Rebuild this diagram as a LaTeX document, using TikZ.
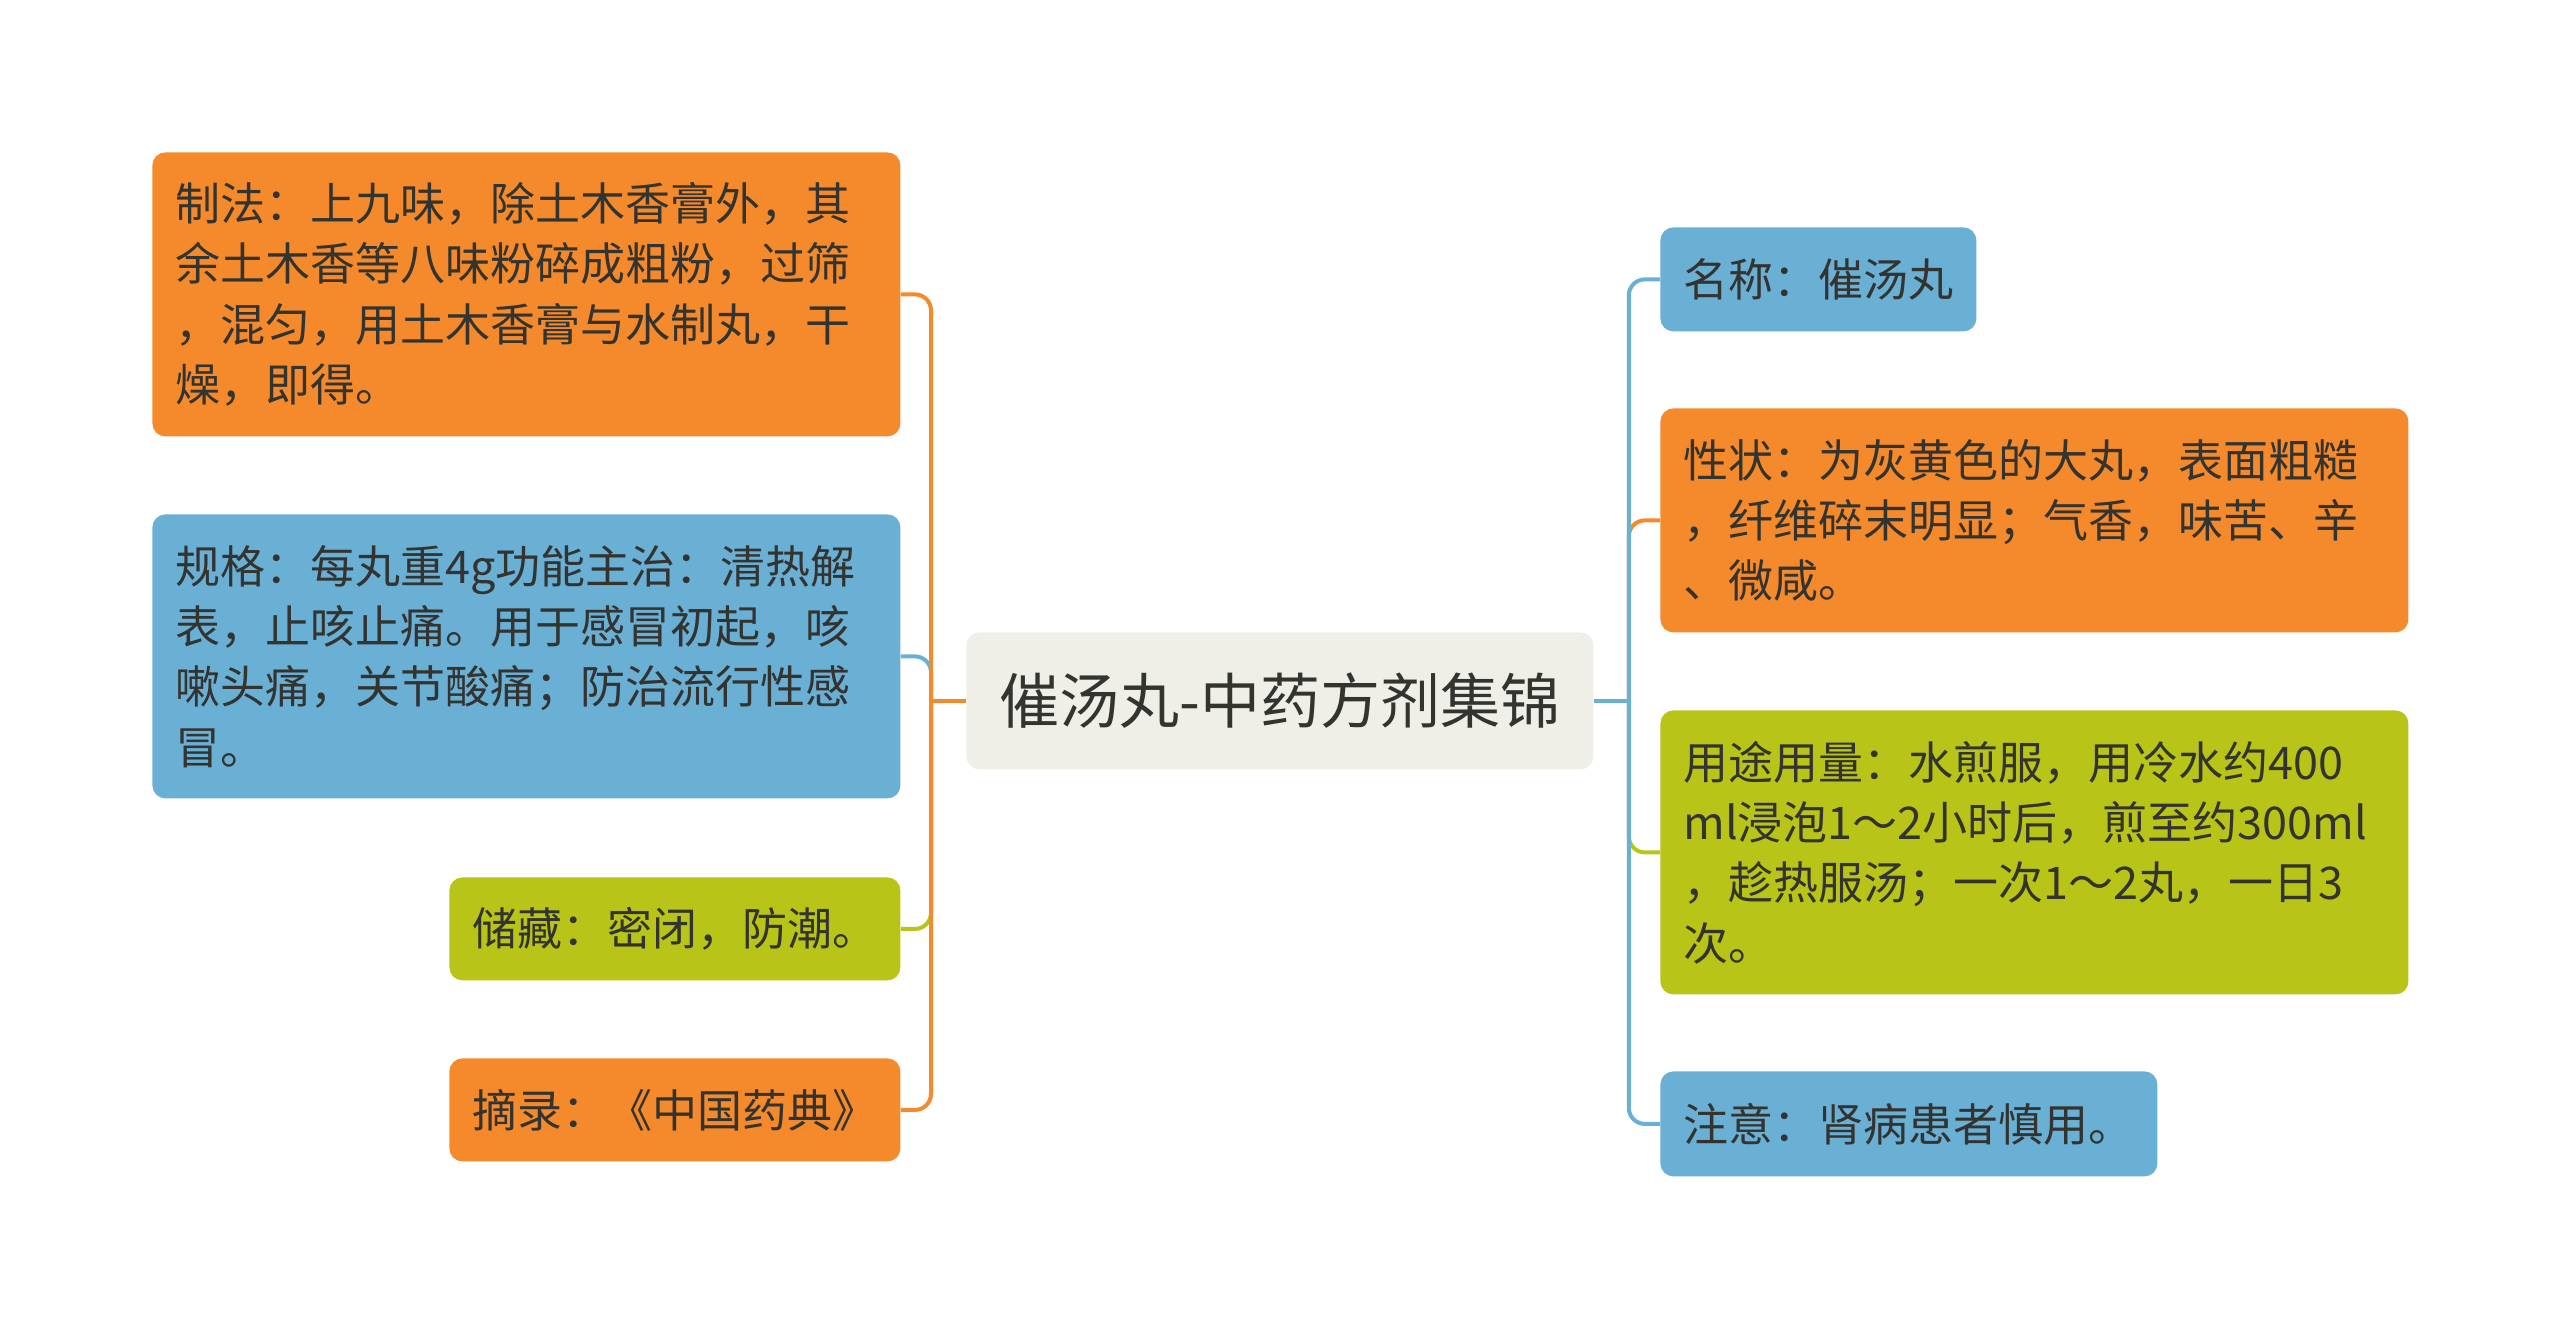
\documentclass[tikz,border=0pt]{standalone}
\usepackage{fontspec}
\newfontfamily\cjk{Noto Sans CJK SC}
\definecolor{orangec}{HTML}{F58A2C}
\definecolor{bluec}{HTML}{6AAFD4}
\definecolor{greenc}{HTML}{B9C419}
\definecolor{centerc}{HTML}{EFEFE8}
\definecolor{textc}{HTML}{333330}
\tikzset{
  leaf/.style={rounded corners=6.5pt, inner xsep=11.5pt, inner ysep=0pt, align=left,
    font=\cjk\fontsize{22.5}{30.2}\selectfont, text=textc, anchor=north west},
  hub/.style={rounded corners=6.5pt, fill=centerc, font=\cjk\fontsize{30}{36}\selectfont,
    text=textc, anchor=north west, minimum width=313.5pt, minimum height=68.5pt, inner sep=0pt},
  conn/.style={line width=2pt, rounded corners=8pt}
}
\begin{document}
\begin{tikzpicture}[x=0.5pt,y=-0.5pt]
\useasboundingbox (0,0) rectangle (2560,1327);
\fill[white] (0,0) rectangle (2560,1327);

% nodes
\node[hub] (center) at (966,632) {催汤丸-中药方剂集锦};

\node[leaf, fill=orangec, text width=351pt, minimum height=142pt] (zhifa) at (152,152)
 {制法：上九味，除土木香膏外，其\\余土木香等八味粉碎成粗粉，过筛\\，混匀，用土木香膏与水制丸，干\\燥，即得。};
\node[leaf, fill=bluec, text width=351pt, minimum height=142pt] (guige) at (152,514)
 {规格：每丸重4g功能主治：清热解\\表，止咳止痛。用于感冒初起，咳\\嗽头痛，关节酸痛；防治流行性感\\冒。};
\node[leaf, fill=greenc, text width=202.5pt, minimum height=51.5pt] (chucang) at (449,877)
 {储藏：密闭，防潮。};
\node[leaf, fill=orangec, text width=202.5pt, minimum height=51.5pt] (zhailu) at (449,1058)
 {摘录：《中国药典》};

\node[leaf, fill=bluec, text width=135pt, minimum height=52pt] (mingcheng) at (1660,227)
 {名称：催汤丸};
\node[leaf, fill=orangec, text width=351pt, minimum height=112pt] (xingzhuang) at (1660,408)
 {性状：为灰黄色的大丸，表面粗糙\\，纤维碎末明显；气香，味苦、辛\\、微咸。};
\node[leaf, fill=greenc, text width=351pt, minimum height=142pt] (yongtu) at (1660,710)
 {用途用量：水煎服，用冷水约400\\ml浸泡1～2小时后，煎至约300ml\\，趁热服汤；一次1～2丸，一日3\\次。};
\node[leaf, fill=bluec, text width=225.5pt, minimum height=52.5pt] (zhuyi) at (1660,1071)
 {注意：肾病患者慎用。};

% connectors
\coordinate (lt) at ([xshift=-17.5pt]center.west);
\coordinate (rt) at ([xshift=17.5pt]center.east);
\draw[conn, bluec] (lt) |- (guige.east);
\draw[conn, greenc] (lt) |- (chucang.east);
\draw[conn, orangec] (lt) |- (zhifa.east);
\draw[conn, orangec] (lt) |- (zhailu.east);
\draw[line width=2pt, orangec] (center.west) -- (lt);

\draw[conn, orangec] (rt) |- (xingzhuang.west);
\draw[conn, greenc] (rt) |- (yongtu.west);
\draw[conn, bluec] (rt) |- (mingcheng.west);
\draw[conn, bluec] (rt) |- (zhuyi.west);
\draw[line width=2pt, bluec] (center.east) -- (rt);
\end{tikzpicture}
\end{document}
